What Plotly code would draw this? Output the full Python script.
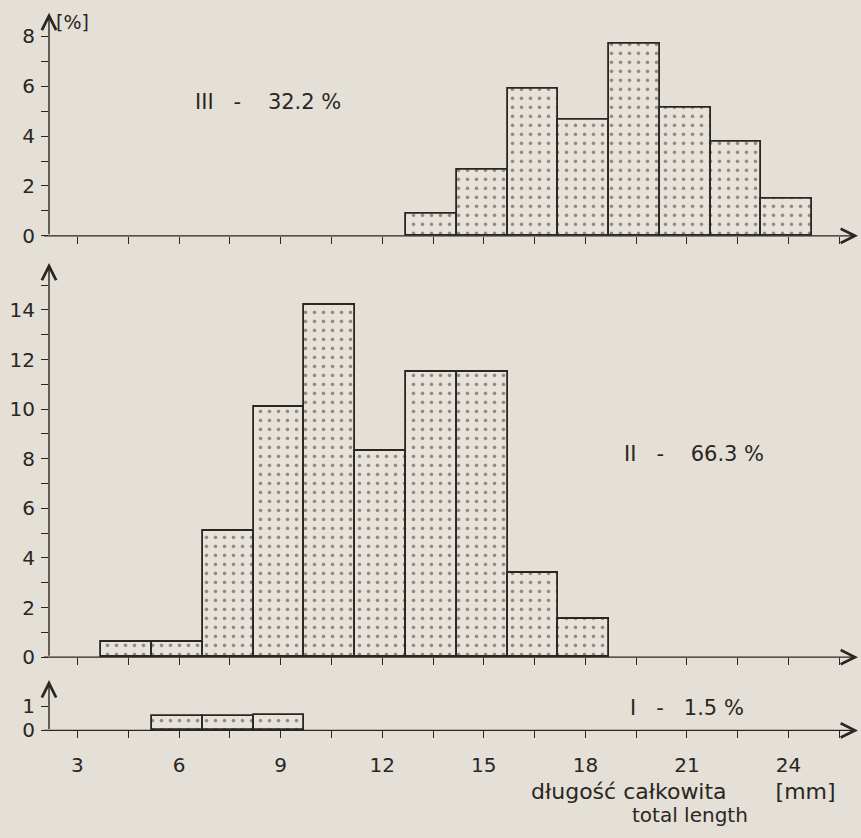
import plotly.graph_objects as go

# ---- data ----
bin_width = 1.5
# class III (32.2 %)
x_III = [13.45, 14.95, 16.45, 17.95, 19.45, 20.95, 22.45, 23.95]
y_III = [0.9, 2.65, 5.9, 4.65, 7.7, 5.15, 3.75, 1.5]
# class II (66.3 %)
x_II = [4.45, 5.95, 7.45, 8.95, 10.45, 11.95, 13.45, 14.95, 16.45, 17.95]
y_II = [0.6, 0.6, 5.1, 10.1, 14.2, 8.3, 11.5, 11.5, 3.4, 1.55]
# class I (1.5 %)
x_I = [5.95, 7.45, 8.95]
y_I = [0.6, 0.6, 0.62]

x_ticks = [3 + 1.5 * i for i in range(16)]
x_ticklabels = [str(int(v)) if v % 3 == 0 else "" for v in x_ticks]

NB = "\u00a0"
labels = {
    "III": "III" + NB * 3 + "-" + NB * 4 + "32.2" + NB + "%",
    "II": "II" + NB * 3 + "-" + NB * 4 + "66.3" + NB + "%",
    "I": "I" + NB * 3 + "-" + NB * 3 + "1.5" + NB + "%",
}
xlabel_1 = "długość" + NB + "całkowita" + NB * 7 + "[mm]"
xlabel_2 = "total" + NB + "length"

W, H = 861, 838
BG = "#e4dfd7"
INK = "#2a2622"
FONT = "DejaVu Sans, Roboto, sans-serif"

def px(p):
    return p / W

def py(p):
    return 1 - p / H

X0, X1 = 2.16, 26.05
x_dom = [px(49), px(858)]

panels = [
    # (axis suffix, xs, ys, y bottom px, y top px, ymax)
    ("", x_III, y_III, 239.3, 13, 8.94),
    ("2", x_II, y_II, 666.7, 266.7, 15.9),
    ("3", x_I, y_I, 741, 690, 2.1),
]

fig = go.Figure()
for suf, xs, ys, yb, yt, ymax in panels:
    fig.add_trace(go.Bar(
        x=xs, y=ys, width=bin_width,
        xaxis="x" + suf, yaxis="y" + suf,
        marker=dict(color=BG,
                    line=dict(color=INK, width=1.8),
                    pattern=dict(shape=".", fgcolor="#332e2a", bgcolor="#e7e2da",
                                 size=9, solidity=0.13)),
        showlegend=False, hoverinfo="skip",
    ))

tickfont = dict(family=FONT, size=20, color=INK)
layout = dict(
    width=W, height=H,
    margin=dict(l=0, r=0, t=0, b=0),
    paper_bgcolor=BG, plot_bgcolor=BG,
    bargap=0,
    font=dict(family=FONT, color=INK),
)

minor = dict(dtick=1, tick0=0, ticks="outside", ticklen=7, tickwidth=1.4, tickcolor=INK)
ytick_sets = [
    dict(tickvals=[0, 2, 4, 6, 8], minor=minor),
    dict(tickvals=[0, 2, 4, 6, 8, 10, 12, 14], minor=minor),
    dict(tickvals=[0, 1]),
]

for i, (suf, xs, ys, yb, yt, ymax) in enumerate(panels):
    layout["xaxis" + suf] = dict(
        domain=x_dom, range=[X0, X1], anchor="y" + suf,
        showgrid=False, zeroline=False, showline=False,
        tickvals=x_ticks, ticktext=x_ticklabels if suf == "3" else [""] * len(x_ticks),
        ticks="outside", ticklen=7, tickwidth=1.4, tickcolor=INK,
        tickfont=tickfont, ticklabelstandoff=10, fixedrange=True,
    )
    layout["yaxis" + suf] = dict(
        domain=[py(yb), py(yt)], range=[0, ymax], anchor="x" + suf,
        showgrid=False, zeroline=False, showline=False,
        ticks="outside", ticklen=7, tickwidth=1.4, tickcolor=INK,
        tickfont=tickfont, ticklabelstandoff=2, fixedrange=True,
        **ytick_sets[i],
    )

fig.update_layout(**layout)

# axis lines with arrowheads
for suf, xs, ys, yb, yt, ymax in panels:
    xr, yr = "x" + suf, "y" + suf
    fig.add_annotation(x=X1, y=0, ax=X0 - 0.2, ay=0, xref=xr, yref=yr, axref=xr, ayref=yr,
                       showarrow=True, arrowhead=5, arrowsize=2.0, arrowwidth=1.4,
                       arrowcolor=INK, text="")
    fig.add_annotation(x=X0, y=ymax, ax=X0, ay=0, xref=xr, yref=yr, axref=xr, ayref=yr,
                       showarrow=True, arrowhead=5, arrowsize=2.0, arrowwidth=1.4,
                       arrowcolor=INK, text="")

def label(text, x, y, anchor="left", size=20):
    fig.add_annotation(x=px(x), y=py(y), xref="paper", yref="paper", text=text,
                       showarrow=False, xanchor=anchor, yanchor="middle",
                       font=dict(family=FONT, size=size, color=INK))

label("[%]", 54, 22, size=19)
label(labels["III"], 193, 103, size=21)
label(labels["II"], 622, 461, size=21)
label(labels["I"], 628, 718, size=21)
label(xlabel_1, 838, 803, anchor="right", size=22)
label(xlabel_2, 690, 827, anchor="center")

post = ("document.body.style.margin='0';document.body.style.padding='0';"
        "document.documentElement.style.overflow='hidden';document.body.style.background='%s';" % BG)
fig.write_html("out.html", post_script=post, config={"displayModeBar": False})
